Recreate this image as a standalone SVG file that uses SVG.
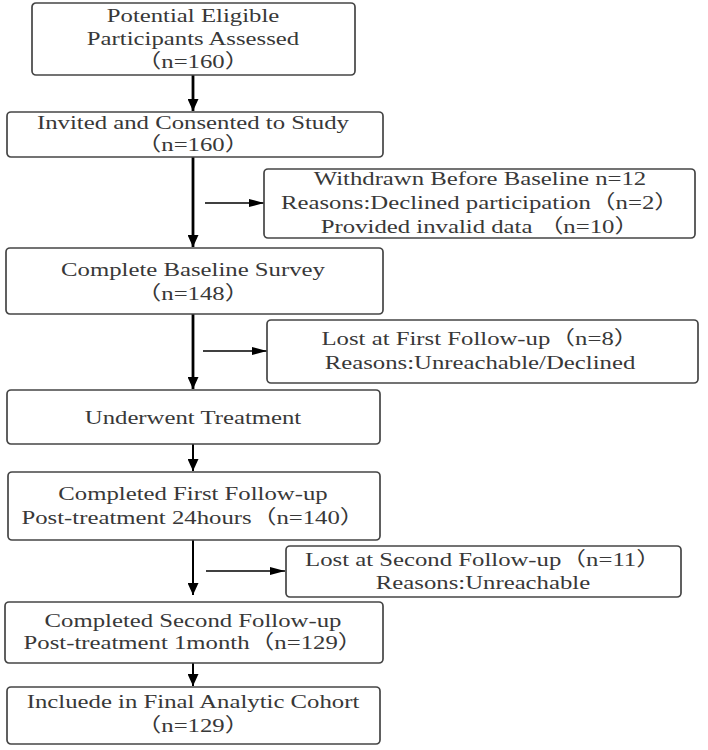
<svg xmlns="http://www.w3.org/2000/svg" width="708" height="750" viewBox="0 0 708 750">
  <style>
    .box { fill: #ffffff; stroke: #454545; stroke-width: 1.7; }
    .lbl { font-family: "Liberation Serif", "Noto Sans CJK SC", serif; font-size: 19.5px; fill: #383838; text-anchor: middle; }
    .main { stroke: #000000; stroke-width: 2.8; fill: none; }
    .thin { stroke: #000000; stroke-width: 2; fill: none; }
    .side { stroke: #000000; stroke-width: 1.6; fill: none; }
  </style>
  <defs>
    <!-- heads sized in user units so each line weight keeps the same head -->
    <marker id="headMain" viewBox="0 0 12 11" refX="12" refY="5.5" markerWidth="12" markerHeight="11" markerUnits="userSpaceOnUse" orient="auto">
      <path d="M0,0 L12,5.5 L0,11 Z" fill="#000000"/>
    </marker>
    <marker id="headSide" viewBox="0 0 15 8" refX="15" refY="4" markerWidth="15" markerHeight="8" markerUnits="userSpaceOnUse" orient="auto">
      <path d="M0,0 L15,4 L0,8 Z" fill="#000000"/>
    </marker>
  </defs>

  <rect width="708" height="750" fill="#ffffff"/>

  <g id="connectors">
    <line class="main" x1="193" y1="75" x2="193" y2="111" marker-end="url(#headMain)"/>
    <line class="main" x1="193" y1="157" x2="193" y2="247" marker-end="url(#headMain)"/>
    <line class="side" x1="205" y1="203" x2="264" y2="203" marker-end="url(#headSide)"/>
    <line class="main" x1="193" y1="314" x2="193" y2="389" marker-end="url(#headMain)"/>
    <line class="side" x1="203" y1="351" x2="267" y2="351" marker-end="url(#headSide)"/>
    <line class="thin" x1="193" y1="444" x2="193" y2="471" marker-end="url(#headMain)"/>
    <line class="thin" x1="193" y1="540" x2="193" y2="595" marker-end="url(#headMain)"/>
    <line class="side" x1="206" y1="571" x2="285" y2="571" marker-end="url(#headSide)"/>
    <line class="thin" x1="193" y1="663" x2="193" y2="686" marker-end="url(#headMain)"/>
  </g>

  <g id="assessed">
    <rect class="box" x="32" y="3" width="323" height="72" rx="4"/>
    <text class="lbl" transform="translate(193,0) scale(1.27,1)" y="22">Potential Eligible</text>
    <text class="lbl" transform="translate(193,0) scale(1.27,1)" y="45">Participants Assessed</text>
    <text class="lbl" transform="translate(193,0) scale(1.27,1)" y="68">（n=160）</text>
  </g>

  <g id="consented">
    <rect class="box" x="7" y="112" width="376" height="45" rx="4"/>
    <text class="lbl" transform="translate(193,0) scale(1.27,1)" y="129">Invited and Consented to Study</text>
    <text class="lbl" transform="translate(193,0) scale(1.27,1)" y="151">（n=160）</text>
  </g>

  <g id="withdrawn">
    <rect class="box" x="264" y="169" width="431" height="69" rx="4"/>
    <text class="lbl" transform="translate(480,0) scale(1.27,1)" y="185">Withdrawn Before Baseline n=12</text>
    <text class="lbl" transform="translate(480,0) scale(1.27,1)" y="209">Reasons:Declined participation（n=2）</text>
    <text class="lbl" transform="translate(480,0) scale(1.27,1)" y="233">Provided invalid data  （n=10）</text>
  </g>

  <g id="baseline">
    <rect class="box" x="6" y="248" width="377" height="66" rx="4"/>
    <text class="lbl" transform="translate(193,0) scale(1.27,1)" y="276">Complete Baseline Survey</text>
    <text class="lbl" transform="translate(193,0) scale(1.27,1)" y="300">（n=148）</text>
  </g>

  <g id="lost-first">
    <rect class="box" x="267" y="320" width="431" height="63" rx="4"/>
    <text class="lbl" transform="translate(480,0) scale(1.27,1)" y="345">Lost at First Follow-up（n=8）</text>
    <text class="lbl" transform="translate(480,0) scale(1.27,1)" y="369">Reasons:Unreachable/Declined</text>
  </g>

  <g id="treatment">
    <rect class="box" x="7" y="390" width="373" height="54" rx="4"/>
    <text class="lbl" transform="translate(193,0) scale(1.27,1)" y="424">Underwent Treatment</text>
  </g>

  <g id="first-followup">
    <rect class="box" x="8" y="472" width="372" height="68" rx="4"/>
    <text class="lbl" transform="translate(193,0) scale(1.27,1)" y="500">Completed First Follow-up</text>
    <text class="lbl" transform="translate(193,0) scale(1.27,1)" y="524">Post-treatment 24hours（n=140）</text>
  </g>

  <g id="lost-second">
    <rect class="box" x="286" y="546" width="395" height="51" rx="4"/>
    <text class="lbl" transform="translate(483,0) scale(1.27,1)" y="566">Lost at Second Follow-up（n=11）</text>
    <text class="lbl" transform="translate(483,0) scale(1.27,1)" y="589">Reasons:Unreachable</text>
  </g>

  <g id="second-followup">
    <rect class="box" x="5" y="602" width="378" height="61" rx="4"/>
    <text class="lbl" transform="translate(193,0) scale(1.27,1)" y="627">Completed Second Follow-up</text>
    <text class="lbl" transform="translate(193,0) scale(1.27,1)" y="649">Post-treatment 1month（n=129）</text>
  </g>

  <g id="cohort">
    <rect class="box" x="7" y="687" width="373" height="57" rx="4"/>
    <text class="lbl" transform="translate(193,0) scale(1.27,1)" y="708">Incluede in Final Analytic Cohort</text>
    <text class="lbl" transform="translate(193,0) scale(1.27,1)" y="732">（n=129）</text>
  </g>
</svg>
